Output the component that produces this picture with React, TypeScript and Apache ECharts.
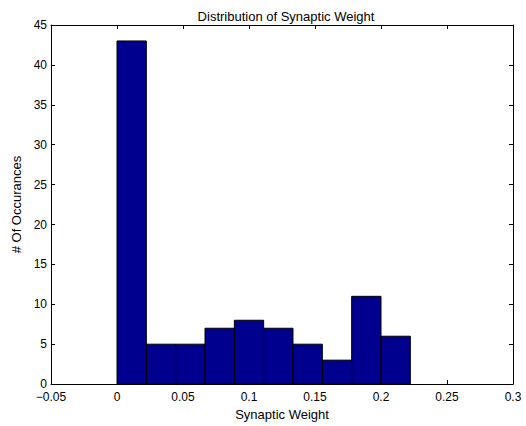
import React, { useEffect, useRef } from "react";
import * as echarts from "echarts";

const binEdges = [0, 0.02222, 0.04444, 0.06667, 0.08889, 0.11111, 0.13333, 0.15556, 0.17778, 0.2, 0.22222];
const counts = [43, 5, 5, 7, 8, 7, 5, 3, 11, 6];
const xTicks = { min: -0.05, max: 0.3, interval: 0.05 };
const yTicks = { min: 0, max: 45, interval: 5 };

const FONT = "'Liberation Sans', Arial, Helvetica, sans-serif";

export default function App() {
  const ref = useRef<HTMLDivElement>(null);
  useEffect(() => {
    if (!ref.current) return;
    const chart = echarts.init(ref.current, undefined, { renderer: "svg" });
    const data = counts.map((c, i) => [binEdges[i], binEdges[i + 1], c]);
    const fmt = (v: number) => {
      const s = String(Math.round(v * 1000) / 1000);
      return s.replace("-", "\u2212");
    };
    const axisCommon = {
      axisLine: { show: true, onZero: false, lineStyle: { color: "#000", width: 1 } },
      axisTick: { show: true, inside: true, length: 4, lineStyle: { color: "#000" } },
      splitLine: { show: false },
    };
    chart.setOption({
      animation: false,
      backgroundColor: "#fff",
      textStyle: { fontFamily: FONT },
      title: {
        text: "Distribution of Synaptic Weight",
        left: 281,
        textAlign: "center",
        top: 5,
        textStyle: { fontSize: 13, fontWeight: "normal", color: "#000", fontFamily: FONT },
      },
      grid: { left: 51, right: 13, top: 25, bottom: 35, containLabel: false },
      xAxis: [
        {
          type: "value",
          position: "bottom",
          ...xTicks,
          ...axisCommon,
          name: "Synaptic Weight",
          nameLocation: "middle",
          nameGap: 22,
          nameTextStyle: { fontSize: 13, color: "#000", fontFamily: FONT },
          axisLabel: { formatter: fmt, fontSize: 12, color: "#000", margin: 7, fontFamily: FONT },
        },
        {
          type: "value",
          position: "top",
          ...xTicks,
          ...axisCommon,
          axisLabel: { show: false },
        },
      ],
      yAxis: [
        {
          type: "value",
          position: "left",
          ...yTicks,
          ...axisCommon,
          name: "# Of Occurances",
          nameLocation: "middle",
          nameRotate: 90,
          nameGap: 24,
          nameTextStyle: { fontSize: 13, color: "#000", fontFamily: FONT },
          axisLabel: { fontSize: 12, color: "#000", margin: 4, fontFamily: FONT },
        },
        {
          type: "value",
          position: "right",
          ...yTicks,
          ...axisCommon,
          axisLabel: { show: false },
        },
      ],
      series: [
        {
          type: "custom",
          xAxisIndex: 0,
          yAxisIndex: 0,
          data,
          encode: { x: [0, 1], y: 2 },
          renderItem: (params: any, api: any) => {
            const p0 = api.coord([api.value(0), api.value(2)]);
            const p1 = api.coord([api.value(1), 0]);
            return {
              type: "rect",
              shape: { x: p0[0], y: p0[1], width: p1[0] - p0[0], height: p1[1] - p0[1] },
              style: { fill: "#00008F", stroke: "#000", lineWidth: 1 },
            };
          },
        },
      ],
    });
    return () => chart.dispose();
  }, []);
  return (
    <div
      ref={ref}
      style={{ position: "fixed", left: 0, top: 0, width: 526, height: 426, background: "#fff" }}
    />
  );
}
